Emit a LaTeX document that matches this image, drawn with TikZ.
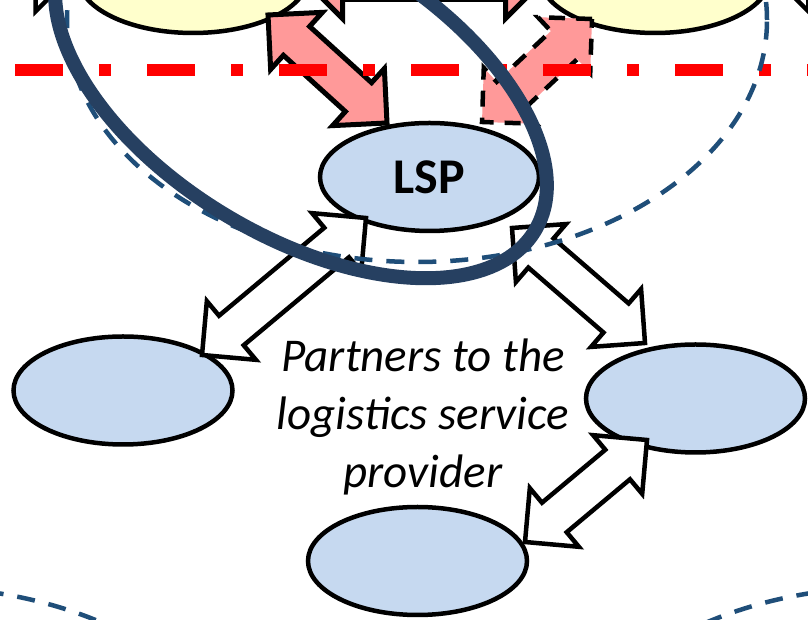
\documentclass[tikz,border=0pt]{standalone}
\usepackage{fontspec}
\setmainfont{Carlito}
\usetikzlibrary{shapes.geometric,shapes.arrows,calc}
\definecolor{yelc}{RGB}{255,255,204}
\definecolor{bluc}{RGB}{198,217,240}
\definecolor{pinkc}{RGB}{255,153,153}
\definecolor{navyc}{RGB}{38,64,97}
\definecolor{dashc}{RGB}{31,78,121}
\tikzset{
  ell/.style={ellipse, draw=black, line width=4.5pt, minimum width=219pt, minimum height=108pt, inner sep=0pt},
  yelell/.style={ell, fill=yelc, minimum width=230pt, minimum height=112pt},
  bluell/.style={ell, fill=bluc},
  blkarr/.style={double arrow, double arrow tip angle=90, double arrow head extend=19pt, inner sep=17pt, draw=black, line width=4.5pt, line join=miter},
  whitearr/.style={blkarr, fill=white},
  pinkarr/.style={blkarr, fill=pinkc, line width=5pt},
  pinkdash/.style={blkarr, fill=pinkc, line width=4.5pt, dash pattern=on 16pt off 11pt},
  redline/.style={draw=red, line width=12pt, dash pattern=on 48pt off 36pt on 12pt off 36pt},
  dashell/.style={draw=dashc, line width=4.5pt, dash pattern=on 18pt off 14pt},
  navyring/.style={draw=navyc, line width=14pt},
  lbl/.style={font=\fontsize{47}{58}\selectfont\itshape, align=center}
}
\newcommand\dblarr[4]{%
  \path let \p1=($(#4)-(#3)$), \n1={atan2(\y1,\x1)}, \n2={veclen(\x1,\y1)} in
    node[#1, rotate=\n1, minimum height=\n2] (#2) at ($(#3)!0.5!(#4)$) {};
}
\begin{document}
\begin{tikzpicture}[x=1pt,y=1pt]
\clip (0,0) rectangle (808,620);
\fill[white] (0,0) rectangle (808,620);
% ellipses
\node[yelell] (yl) at (193,643) {};
\node[yelell] (yr) at (655,643) {};
\node[bluell, font=\fontsize{50}{60}\selectfont\bfseries] (lsp) at (429.5,443) {LSP};
\node[bluell] (pl) at (123,229.5) {};
\node[bluell] (pr) at (695.5,221.5) {};
\node[bluell] (pb) at (417.5,59) {};
\node[lbl] (txt) at (423,203) {Partners to the\\logistics service\\provider};
% arrow end points
\coordinate (w1a) at (202,265);  \coordinate (w1b) at (366,402);
\coordinate (w2a) at (512,392);  \coordinate (w2b) at (645,277);
\coordinate (w3a) at (647,180);  \coordinate (w3b) at (525,78);
\coordinate (p1a) at (268,605);  \coordinate (p1b) at (387,497);
\coordinate (p2a) at (482,498);  \coordinate (p2b) at (592,601);
\coordinate (p3a) at (304,640);  \coordinate (p3b) at (544,640);
\coordinate (f1a) at (-150,647); \coordinate (f1b) at (74,647);
\coordinate (f2a) at (770,647);  \coordinate (f2b) at (1000,647);
% white arrows
\dblarr{whitearr}{a1}{w1a}{w1b}
\dblarr{whitearr}{a2}{w2a}{w2b}
\dblarr{whitearr}{a3}{w3a}{w3b}
\dblarr{whitearr}{a4}{f1a}{f1b}
\dblarr{whitearr}{a5}{f2a}{f2b}
% pink arrows
\dblarr{pinkarr}{a6}{p1a}{p1b}
\dblarr{pinkarr}{a7}{p3a}{p3b}
\dblarr{pinkdash}{a8}{p2a}{p2b}
% red dash-dot line
\coordinate (rl1) at (15,550);
\coordinate (rl2) at (840,550);
\draw[redline] (rl1) -- (rl2);
% dashed ellipses
\coordinate (de1) at (417,600);
\coordinate (de2) at (-81,-209);
\coordinate (de3) at (889,-209);
\draw[dashell] (de1) ellipse [x radius=350pt, y radius=242pt];
\draw[dashell] (de2) ellipse [x radius=350pt, y radius=242pt];
\draw[dashell] (de3) ellipse [x radius=350pt, y radius=242pt];
% navy ring
\coordinate (nc) at (301,530);
\draw[navyring, rotate around={-31:(nc)}] (nc) ellipse [x radius=273pt, y radius=146pt];
\end{tikzpicture}
\end{document}
